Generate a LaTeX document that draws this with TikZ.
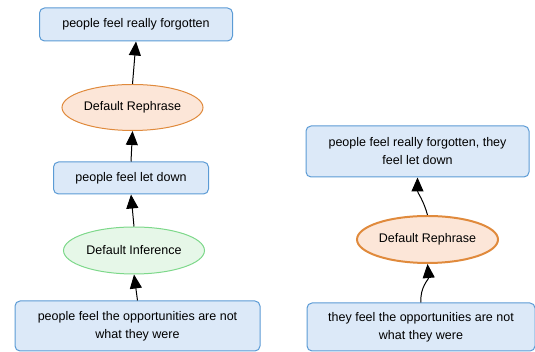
\documentclass[tikz,border=0pt]{standalone}
\usepackage{fontspec}
\setmainfont{Liberation Sans}
\usetikzlibrary{arrows.meta,shapes.geometric}
\definecolor{boxfill}{HTML}{DCE9F8}
\definecolor{boxline}{HTML}{5B9BD5}
\definecolor{orfill}{HTML}{FCE6D8}
\definecolor{orline}{HTML}{E08A3C}
\definecolor{grfill}{HTML}{E6F7E8}
\definecolor{grline}{HTML}{7DD88A}

\begin{document}
\begin{tikzpicture}[x=1pt,y=1pt,
  font=\fontsize{12.5}{18}\selectfont,
  claim/.style={draw=boxline,fill=boxfill,rounded corners=5pt,line width=1pt,align=center,inner sep=0pt},
  rule/.style={ellipse,line width=1pt,inner sep=0pt,minimum width=141pt,minimum height=46pt},
  rephrase/.style={rule,draw=orline,fill=orfill},
  infer/.style={rule,draw=grline,fill=grfill},
  link/.style={-{Triangle[width=12pt,length=14pt]},line width=1pt}]
\useasboundingbox (0,0) rectangle (535,352);
\node[claim,minimum width=193pt,minimum height=33pt] (forgot) at (136,327.5) {people feel really forgotten};
\node[rephrase] (reph1) at (132.5,244.5) {Default Rephrase};
\node[claim,minimum width=155pt,minimum height=32pt] (letdown) at (131,174) {people feel let down};
\node[infer,minimum height=47pt] (infer1) at (134,101.5) {Default Inference};
\node[claim,minimum width=245pt,minimum height=50pt] (opp1) at (137.5,26) {people feel the opportunities are not\\what they were};
\node[claim,minimum width=223pt,minimum height=51pt] (both) at (417.5,200.5) {people feel really forgotten, they\\feel let down};
\node[rephrase,line width=2pt,minimum height=47pt] (reph2) at (427.5,112.5) {Default Rephrase};
\node[claim,minimum width=228pt,minimum height=48pt] (opp2) at (421,25) {they feel the opportunities are not\\what they were};
\draw[link] (opp1.north) -- (infer1.south);
\draw[link] (infer1.north) -- (letdown.south);
\draw[link] (letdown.north) -- (reph1.south);
\draw[link] (reph1.north) -- (forgot.south);
\draw[link] (opp2.north) to[out=95,in=-85] (reph2.south);
\draw[link] (reph2.north) to[out=105,in=-90] (both.south);
\end{tikzpicture}
\end{document}
